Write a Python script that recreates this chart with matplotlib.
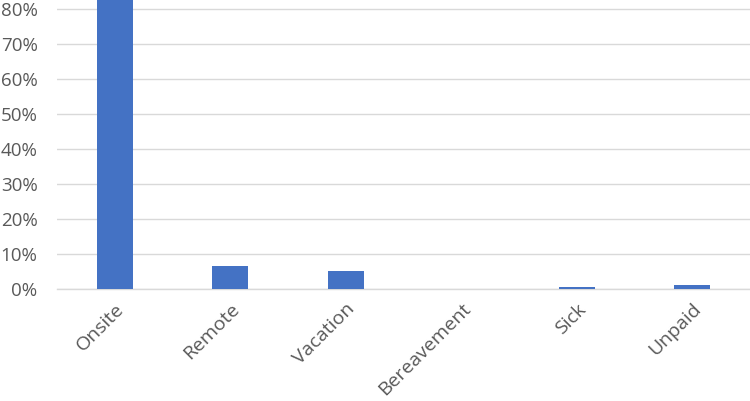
import matplotlib
matplotlib.use("Agg")
import matplotlib.pyplot as plt
from matplotlib.ticker import FuncFormatter

categories = ["Onsite", "Remote", "Vacation", "Bereavement", "Sick", "Unpaid"]
values = [86.6, 6.6, 5.1, 0.0, 0.5, 1.1]
yticks = [0, 10, 20, 30, 40, 50, 60, 70, 80]

plt.rcParams['font.family'] = ['Open Sans', 'DejaVu Sans']

fig = plt.figure(figsize=(7.5, 4.01), dpi=100)
ax = fig.add_axes([0.076, 0.2793, 0.924, 0.7207])

x = list(range(len(categories)))
ax.bar(x, values, width=0.31, color="#4472c4", zorder=3)
ax.set_xlim(-0.5, len(categories) - 0.5)
ax.set_ylim(0, 82.6)
ax.set_yticks(yticks)
ax.yaxis.set_major_formatter(FuncFormatter(lambda v, p: f"{int(v)}%"))
ax.grid(axis="y", color="#d9d9d9", linewidth=1.0, zorder=0)
for s in ["top", "right", "left"]:
    ax.spines[s].set_visible(False)
ax.spines["bottom"].set_color("#d9d9d9")
ax.spines["bottom"].set_linewidth(1.0)
ax.tick_params(axis="both", length=0, colors="#595959")
ax.tick_params(axis="y", pad=14, labelsize=13.5)
ax.tick_params(axis="x", pad=8, labelsize=14)
ax.set_xticks(x)
ax.set_xticklabels(categories, rotation=45, ha="right", rotation_mode="anchor")

fig.savefig("out.png", dpi=100)
